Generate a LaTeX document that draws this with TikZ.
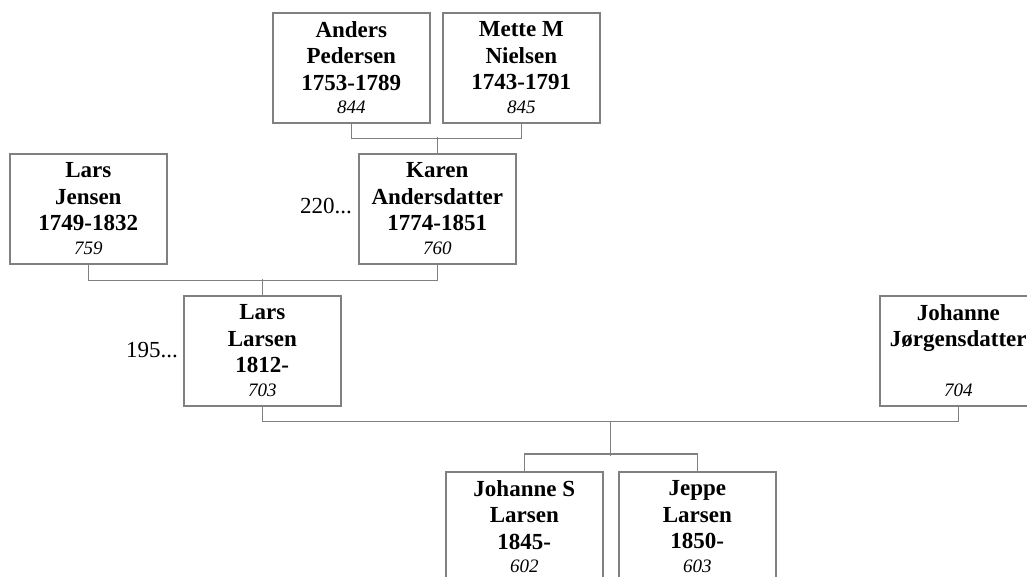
\documentclass[tikz,border=0pt]{standalone}
\usepackage{fontspec}
\setmainfont{Liberation Serif}
\usetikzlibrary{calc}
\definecolor{linegray}{RGB}{128,128,128}
\newcommand\refno[1]{{\fontsize{19}{22}\selectfont\mdseries\itshape #1}}
\begin{document}
\begin{tikzpicture}[x=1pt,y=-1pt,
  person/.style={draw=linegray, line width=1.6pt, minimum width=157pt, minimum height=110pt,
    align=center, inner sep=0pt, font=\fontsize{23}{26.5}\selectfont\bfseries, anchor=north west},
  conn/.style={draw=linegray, line width=1.6pt},
  note/.style={font=\fontsize{23}{26}\selectfont, anchor=east, inner sep=0pt}]
\useasboundingbox (0,0) rectangle (1027,577);
\clip (0,0) rectangle (1027,577);
\fill[white] (0,0) rectangle (1027,577);

% generation 1
\node[person] (anders) at (272,12) {Anders\\Pedersen\\1753-1789\\[-3pt]\refno{844}};
\node[person] (mette) at (442,12) {Mette M\\Nielsen\\1743-1791\\[-3pt]\refno{845}};
% generation 2
\node[person] (larsj) at (9,153) {Lars\\Jensen\\1749-1832\\[-3pt]\refno{759}};
\node[person] (karen) at (358,153) {Karen\\Andersdatter\\1774-1851\\[-3pt]\refno{760}};
% generation 3
\node[person] (larsl) at (183,295) {Lars\\Larsen\\1812-\\[-3pt]\refno{703}};
\node[person] (johannej) at (879,295) {Johanne\\Jørgensdatter\\\mbox{}\\[-3pt]\refno{704}};
% generation 4
\node[person] (johannes) at (445,471) {Johanne S\\Larsen\\1845-\\[-3pt]\refno{602}};
\node[person] (jeppe) at (618,471) {Jeppe\\Larsen\\1850-\\[-3pt]\refno{603}};

% notes
\node[note] (n220) at ([xshift=-6pt,yshift=2.5pt]karen.west) {220...};
\node[note] (n195) at ([xshift=-5pt,yshift=0.5pt]larsl.west) {195...};

% connectors
\draw[conn] (anders.south) -- ++(0,15) -| (mette.south);
\draw[conn] (karen.north) -- ++(0,-16);
\draw[conn] (larsj.south) -- ++(0,16) -| (karen.south);
\draw[conn] (larsl.north) -- ++(0,-16);
\draw[conn] (larsl.south) -- ++(0,15) -| (johannej.south);
\coordinate (fam) at ($(larsl.south)!0.5!(johannej.south)+(0,15)$);
\draw[conn] (fam) -- ++(0,34);
\draw[conn] (johannes.north) -- ++(0,-17) -| (jeppe.north);
\end{tikzpicture}
\end{document}
